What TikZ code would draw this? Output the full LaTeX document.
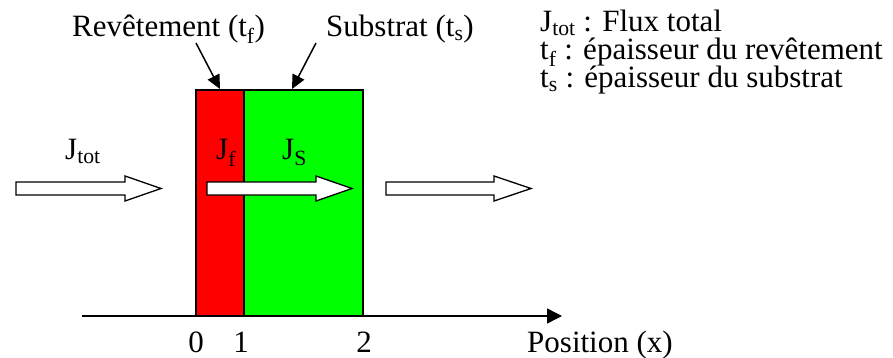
\documentclass[tikz,border=0pt]{standalone}
\usepackage{fontspec}
\setmainfont{Liberation Serif}
\usetikzlibrary{arrows.meta}

\newcommand{\bigtext}{\fontsize{31}{34}\selectfont}

\begin{document}
\begin{tikzpicture}[
    x=1pt, y=-1pt,
    layer/.style={
        draw=black,
        line width=2pt,
        inner sep=0pt,
        minimum height=226pt
    },
    flux/.style={
        draw=black,
        fill=white,
        line width=1.3pt,
        line join=miter
    },
    pointer/.style={
        draw=black,
        line width=1.5pt,
        -{Triangle[length=14pt, width=13pt]}
    },
    txt/.style={
        font=\bigtext,
        inner sep=0pt,
        anchor=base west
    }
]
\useasboundingbox (0,0) rectangle (893,358);

% Couches
\node[layer, fill=red, minimum width=48pt] (film) at (220,203) {};
\node[layer, fill=green, minimum width=119pt] (subs) at (303.5,203) {};

% Flux
\foreach \xa/\xb/\xc in {16/125/161, 207/316/352, 386/494/531}
    \draw[flux] (\xa,182) -- (\xb,182) -- (\xb,176) -- (\xc,188.5)
        -- (\xb,201) -- (\xb,195) -- (\xa,195) -- cycle;

% Axe
\coordinate (axstart) at (82,316);
\coordinate (axend) at (562,316);
\draw[line width=1.5pt, -{Triangle[length=15pt, width=15pt]}] (axstart) -- (axend);

% Labels
\node[txt] (rev) at (72,37) {Revêtement (t\textsubscript{f})};
\node[txt] (sub) at (326,37) {Substrat (t\textsubscript{s})};

\coordinate (revfoot) at (196,43);
\coordinate (subfoot) at (316,43);
\draw[pointer] (revfoot) -- (film.north);
\draw[pointer] (subfoot) -- ([xshift=-11.5pt]subs.north);

\node[txt] (jtot) at (65,160) {J\textsubscript{tot}};
\node[txt] (jf) at (216,160) {J\textsubscript{f}};
\node[txt] (js) at (282,160) {J\textsubscript{S}};

% Legende
\node[txt] (leg1) at (540,32) {J\textsubscript{tot} : Flux total};
\node[txt] (leg2) at (540,60) {t\textsubscript{f} : épaisseur du revêtement};
\node[txt] (leg3) at (540,88) {t\textsubscript{s} : épaisseur du substrat};

% Graduations
\node[txt, anchor=base] (x0) at (196,352) {0};
\node[txt, anchor=base] (x1) at (241,352) {1};
\node[txt, anchor=base] (x2) at (364,352) {2};
\node[txt] (pos) at (527,352) {Position (x)};

\end{tikzpicture}
\end{document}
